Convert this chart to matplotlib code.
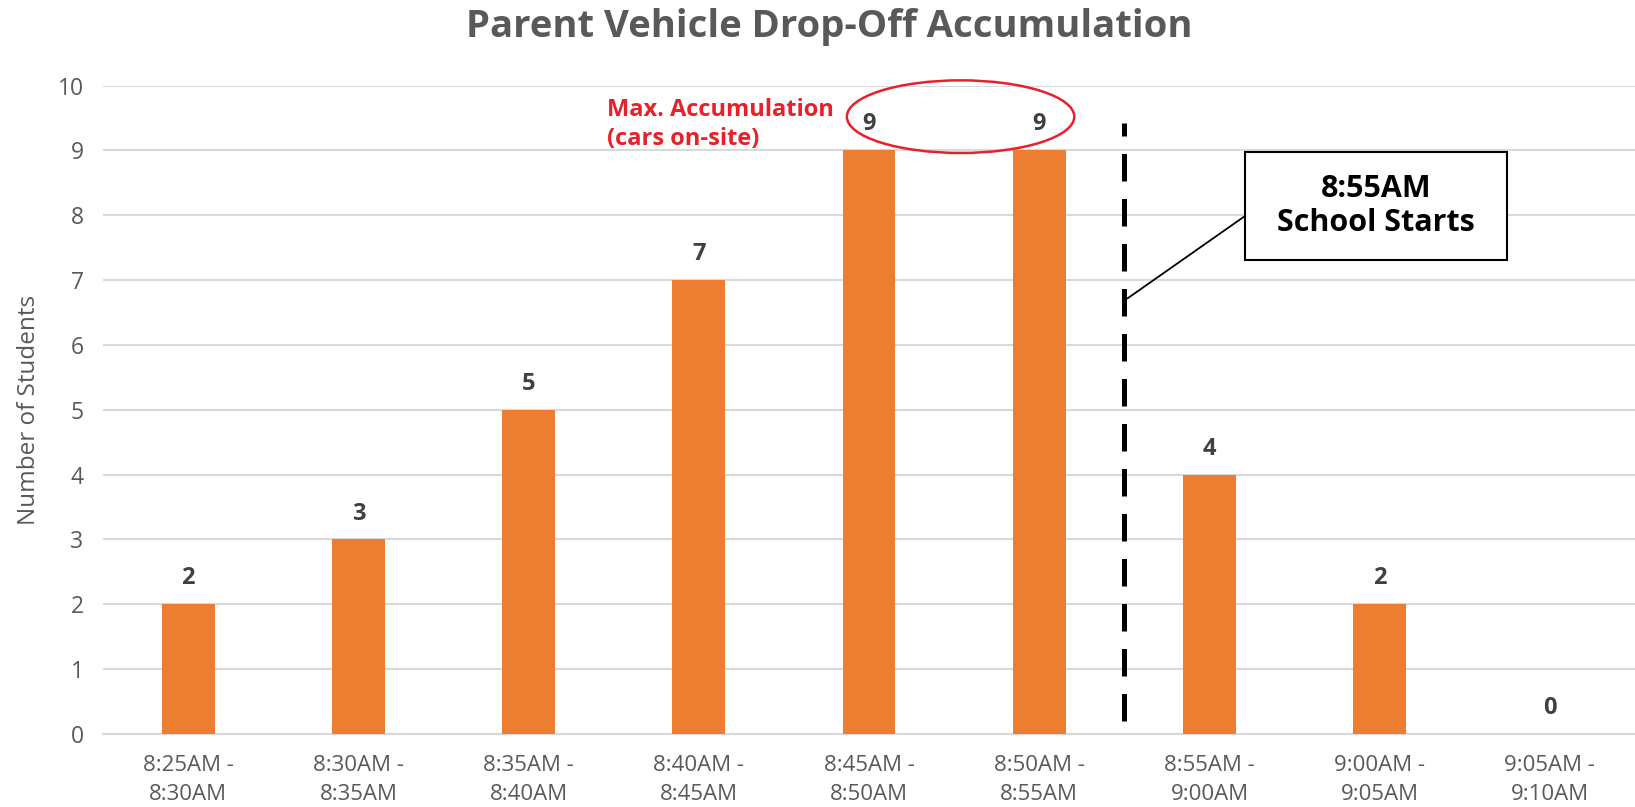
import matplotlib
matplotlib.use("Agg")
import matplotlib.pyplot as plt
from matplotlib.patches import Ellipse, Rectangle

categories = ["8:25AM -\n8:30AM", "8:30AM -\n8:35AM", "8:35AM -\n8:40AM", "8:40AM -\n8:45AM",
              "8:45AM -\n8:50AM", "8:50AM -\n8:55AM", "8:55AM -\n9:00AM", "9:00AM -\n9:05AM",
              "9:05AM -\n9:10AM"]
students = [2, 3, 5, 7, 9, 9, 4, 2, 0]
yticks = list(range(0, 11))

title = "Parent Vehicle Drop-Off Accumulation"
ylabel = "Number of Students"
max_note = "Max. Accumulation\n(cars on-site)"
callout = "8:55AM\nSchool Starts"

FONT = ["Open Sans", "DejaVu Sans"]
plt.rcParams['font.family'] = FONT

BAR = "#ED7D31"
GRAY = "#595959"
DARK = "#404040"
GRID = "#D9D9D9"

fig = plt.figure(figsize=(16.35, 8.07), dpi=100)
ax = fig.add_axes([0.063, 0.0905, 0.937, 0.8035])

x = list(range(len(categories)))
ax.bar(x, students, width=0.31, color=BAR, zorder=3)
for xi, v in zip(x, students):
    ax.text(xi, v + 0.40, str(v), ha="center", va="center", fontsize=17,
            fontweight="bold", color=DARK, zorder=4)

ax.set_xlim(-0.5, len(categories) - 0.5)
ax.set_ylim(0, 10)
ax.set_yticks(yticks)
ax.set_xticks(x)
ax.set_xticklabels(categories, fontsize=16, color=GRAY, linespacing=1.5)
ax.tick_params(axis="y", labelsize=16.5, colors=GRAY, length=0, pad=14)
ax.tick_params(axis="x", length=0, pad=15)
ax.yaxis.grid(True, color=GRID, linewidth=1.5, zorder=0)
for s in ["top", "right", "left"]:
    ax.spines[s].set_visible(False)
ax.spines["bottom"].set_color(GRID)
ax.spines["bottom"].set_linewidth(1.5)
ax.set_ylabel(ylabel, fontsize=17.5, color=GRAY, labelpad=12)

# school start dashed line between categories 5 and 6
start_pos = 5.5
ax.plot([start_pos, start_pos], [0.2, 9.42], color="black", linewidth=3.6,
        dashes=(5.5, 3.5), zorder=5, solid_capstyle="butt", dash_capstyle="butt")

# callout box
box_x0, box_x1, box_y0, box_y1 = 6.21, 7.75, 7.31, 8.97
ax.add_patch(Rectangle((box_x0, box_y0), box_x1 - box_x0, box_y1 - box_y0,
                       facecolor="white", edgecolor="black", linewidth=1.5, zorder=6))
ax.text((box_x0 + box_x1) / 2, (box_y0 + box_y1) / 2, callout, ha="center", va="center",
        fontsize=22, fontweight="bold", color="black", linespacing=1.2, zorder=7)
ax.plot([5.52, box_x0], [6.72, 7.99], color="black", linewidth=1.3, zorder=6)

# max accumulation ellipse + note
ax.add_patch(Ellipse((4.538, 9.52), 1.336, 1.12, fill=False, edgecolor="#E8202A",
                     linewidth=1.8, zorder=6, clip_on=False))
ax.text(2.46, 9.40, max_note, ha="left", va="center", fontsize=17, fontweight="bold",
        color="#E8202A", linespacing=1.25, zorder=6)

fig.text(0.507, 0.966, title, ha="center", va="center", fontsize=27.5,
         fontweight="bold", color=GRAY)

fig.savefig("out.png", dpi=100)
